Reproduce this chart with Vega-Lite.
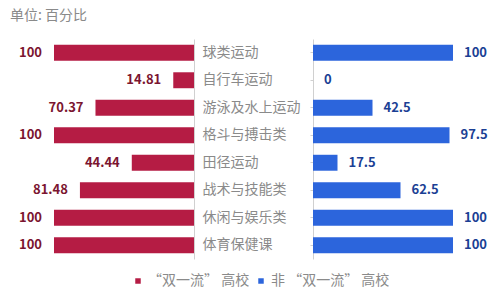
{
  "$schema": "https://vega.github.io/schema/vega-lite/v6.json",
  "background": "white",
  "padding": {"left": 10, "top": 9, "right": 0, "bottom": 0},
  "title": {"text": "单位: 百分比", "anchor": "start", "fontSize": 14, "fontWeight": "normal", "color": "#8a8a8a", "font": "Noto Sans CJK SC", "dx": -2, "offset": 16},
  "datasets": {
    "left": [
      {"cat": "球类运动", "group": "“双一流” 高校", "value": 100},
      {"cat": "自行车运动", "group": "“双一流” 高校", "value": 14.81},
      {"cat": "游泳及水上运动", "group": "“双一流” 高校", "value": 70.37},
      {"cat": "格斗与搏击类", "group": "“双一流” 高校", "value": 100},
      {"cat": "田径运动", "group": "“双一流” 高校", "value": 44.44},
      {"cat": "战术与技能类", "group": "“双一流” 高校", "value": 81.48},
      {"cat": "休闲与娱乐类", "group": "“双一流” 高校", "value": 100},
      {"cat": "体育保健课", "group": "“双一流” 高校", "value": 100}
    ],
    "right": [
      {"cat": "球类运动", "group": "非 “双一流” 高校", "value": 100},
      {"cat": "自行车运动", "group": "非 “双一流” 高校", "value": 0},
      {"cat": "游泳及水上运动", "group": "非 “双一流” 高校", "value": 42.5},
      {"cat": "格斗与搏击类", "group": "非 “双一流” 高校", "value": 97.5},
      {"cat": "田径运动", "group": "非 “双一流” 高校", "value": 17.5},
      {"cat": "战术与技能类", "group": "非 “双一流” 高校", "value": 62.5},
      {"cat": "休闲与娱乐类", "group": "非 “双一流” 高校", "value": 100},
      {"cat": "体育保健课", "group": "非 “双一流” 高校", "value": 100}
    ]
  },
  "spacing": 119,
  "bounds": "flush",
  "hconcat": [
    {
      "width": 182,
      "height": 220,
      "data": {"name": "left"},
      "encoding": {
        "y": {"field": "cat", "type": "nominal", "sort": null,
          "scale": {"paddingInner": 0.42, "paddingOuter": 0.21},
          "axis": {"orient": "right", "title": null, "labelAlign": "left", "labelPadding": 8, "ticks": false, "domainColor": "#d0d0d0", "labelColor": "#8a8a8a", "labelFontSize": 14, "labelFont": "Noto Sans CJK SC"}},
        "x": {"field": "value", "type": "quantitative", "scale": {"domain": [0, 130], "reverse": true}, "axis": null}
      },
      "layer": [
        {"mark": {"type": "bar"},
         "encoding": {"color": {"field": "group", "type": "nominal",
           "scale": {"domain": ["“双一流” 高校", "非 “双一流” 高校"], "range": ["#B51C44", "#2C65DC"]},
           "legend": {"title": null, "orient": "none", "legendX": 119, "legendY": 235, "direction": "horizontal"}}}},
        {"mark": {"type": "text", "align": "right", "dx": -12, "fontSize": 13, "fontWeight": "bold", "color": "#7b1530", "font": "Noto Sans CJK SC"},
         "encoding": {"text": {"field": "value", "type": "quantitative"}}}
      ]
    },
    {
      "width": 182,
      "height": 220,
      "data": {"name": "right"},
      "encoding": {
        "y": {"field": "cat", "type": "nominal", "sort": null,
          "scale": {"paddingInner": 0.42, "paddingOuter": 0.21},
          "axis": {"orient": "left", "title": null, "labels": false, "ticks": true, "tickSize": 3, "tickColor": "#d0d0d0", "domainColor": "#d0d0d0"}},
        "x": {"field": "value", "type": "quantitative", "scale": {"domain": [0, 130]}, "axis": null}
      },
      "layer": [
        {"mark": {"type": "bar"},
         "encoding": {"color": {"field": "group", "type": "nominal", "legend": {"title": null, "orient": "none", "legendX": 119, "legendY": 235, "direction": "horizontal"}}}},
        {"mark": {"type": "text", "align": "left", "dx": 11, "fontSize": 13, "fontWeight": "bold", "color": "#1b3f94", "font": "Noto Sans CJK SC"},
         "encoding": {"text": {"field": "value", "type": "quantitative"}}}
      ]
    }
  ],
  "config": {
    "view": {"stroke": null},
    "font": "Noto Sans CJK SC",
    "legend": {"symbolType": "square", "symbolSize": 30, "labelFontSize": 14, "labelColor": "#8a8a8a", "labelFont": "Noto Sans CJK SC", "columnPadding": 4, "labelOffset": 3}
  }
}
